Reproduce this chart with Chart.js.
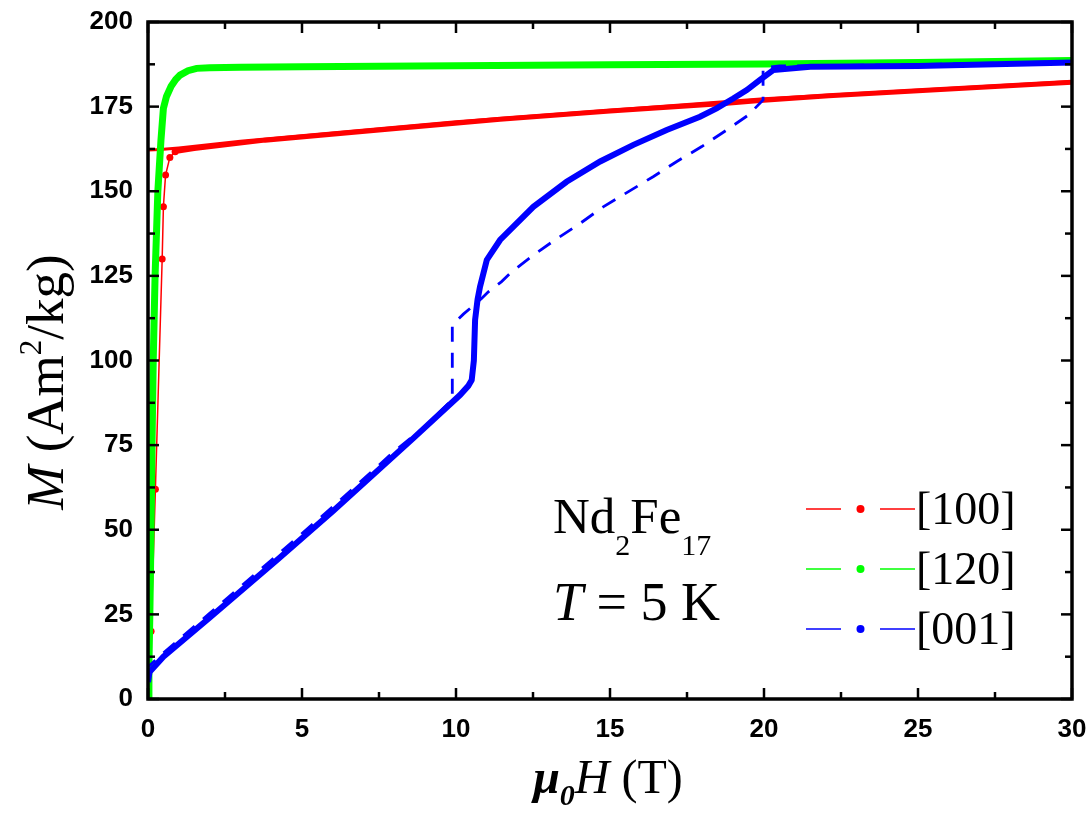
<!DOCTYPE html>
<html><head><meta charset="utf-8">
<script src="https://cdn.jsdelivr.net/npm/chart.js@4.4.0/dist/chart.umd.min.js"></script>
<style>html,body{margin:0;padding:0;background:#fff}#wrap{width:1091px;height:834px}</style>
</head><body><div id="wrap"><canvas id="c" width="1091" height="834"></canvas></div>
<script>
const SERIES_NAMES = ['[100]', '[120]', '[001]'];
const X_TICKS = [0, 5, 10, 15, 20, 25, 30];
const Y_TICKS = [0, 25, 50, 75, 100, 125, 150, 175, 200];

// [100] (red)
const H100_upLow = [0.00, 0.10, 0.24, 0.46, 0.50, 0.57, 0.71, 0.88];
const M100_upLow = [3, 20, 62, 130, 145.4, 154.8, 160.0, 161.7];
const H100_up = [0.88, 1.5, 3.8, 7.5, 11.43, 15.0, 18.7, 19.87, 22.1, 25.0, 30.0];
const M100_up = [161.7, 162.6, 165.1, 168.1, 171.3, 173.7, 175.9, 176.8, 178.2, 179.7, 182.2];
const H100_down = [30.0, 20.0, 10.0, 3.0, 1.0, 0.4, 0.0];
const M100_down = [182.4, 177.3, 170.5, 164.8, 162.8, 162.3, 162.2];

// [120] (green)
const H120 = [0.00, 0.03, 0.06, 0.10, 0.13, 0.17, 0.23, 0.32, 0.42, 0.50, 0.60, 0.75, 0.90, 1.04, 1.30, 1.58, 2.0, 3.0, 5.0, 10.0, 15.0, 20.0, 25.0, 30.0];
const M120 = [0, 10, 25, 50, 75, 100, 125, 150, 165, 174.5, 178.0, 181.0, 183.0, 184.3, 185.6, 186.3, 186.5, 186.6, 186.8, 187.1, 187.4, 187.6, 188.0, 188.6];

// [001] (blue)
const H001_up = [0.00, 0.05, 0.5, 2.0, 4.18, 6.0, 8.61, 10.13, 10.40, 10.51, 10.58, 10.62, 10.70, 10.78, 11.00, 11.43, 12.51, 13.59, 14.68, 15.76, 16.84, 17.92, 18.46, 19.0, 19.44, 19.87, 20.3, 21.5, 25.0, 30.0];
const M001_up = [5, 8, 12.5, 24, 41, 55.5, 77, 89.8, 92.5, 94.2, 100, 112, 118, 121.8, 129.7, 135.6, 145.4, 152.8, 158.8, 163.7, 168.1, 172.0, 174.5, 177.4, 179.9, 182.9, 185.8, 186.8, 187.0, 188.0];
const H001_down = [30.0, 25.0, 20.5, 19.97, 19.97, 19.76, 19.49, 18.79, 17.98, 17.17, 16.4, 15.6, 14.78, 14.03, 13.21, 12.45, 11.81, 11.48, 11.05, 10.83, 10.24, 9.88, 9.88, 9, 8, 6, 4, 2, 1, 0.5, 0.0];
const M001_down = [188.3, 187.4, 187.0, 186.5, 177.0, 175.0, 172.5, 168.1, 163.2, 158.8, 154.3, 149.9, 145.4, 140.5, 135.6, 130.7, 126.2, 123.3, 120.3, 118.3, 113.7, 110.5, 88.5, 80.5, 73.2, 56.8, 41.0, 25.3, 17.5, 13.6, 9.5];

const RED = '#ff0000', GREEN = '#00ff00', BLUE = '#0000ff';
const COLORS = [RED, GREEN, BLUE];

function pts(H, M) { return H.map((h, i) => ({ x: h, y: M[i] })); }

const datasets = [
  { label: SERIES_NAMES[2], data: pts(H001_up, M001_up), borderColor: BLUE, borderWidth: 6, pointRadius: 0 },
  { label: SERIES_NAMES[2] + ' down', data: pts(H001_down, M001_down), borderColor: BLUE, borderWidth: 2.8, borderDash: [15, 11], pointRadius: 0 },
  { label: SERIES_NAMES[1], data: pts(H120, M120), borderColor: GREEN, borderWidth: 7, pointRadius: 0 },
  { label: SERIES_NAMES[0], data: pts(H100_up, M100_up), borderColor: RED, borderWidth: 5, pointRadius: 0 },
  { label: SERIES_NAMES[0] + ' down', data: pts(H100_down, M100_down), borderColor: RED, borderWidth: 3, pointRadius: 0 },
  { label: SERIES_NAMES[0] + ' low', data: pts(H100_upLow, M100_upLow), borderColor: RED, borderWidth: 1.5, pointRadius: 3.5, pointBackgroundColor: RED, pointBorderWidth: 0 }
];
datasets.forEach(d => { d.showLine = true; d.tension = 0; d.fill = false; });

const SERIF = '"Liberation Serif", "Times New Roman", serif';

function drawRich(ctx, parts, x, y, align) {
  let w = 0;
  parts.forEach(p => { ctx.font = p.font; p.w = ctx.measureText(p.t).width; w += p.w; });
  let cx = align === 'center' ? x - w / 2 : x;
  parts.forEach(p => { ctx.font = p.font; ctx.fillText(p.t, cx, y + (p.dy || 0)); cx += p.w; });
}

const decorPlugin = {
  id: 'decor',
  afterDatasetsDraw(chart) {
    const { ctx, chartArea: a, scales: { x, y } } = chart;
    ctx.save();
    ctx.strokeStyle = '#000';
    ctx.lineWidth = 3.5;
    ctx.strokeRect(a.left, a.top, a.right - a.left, a.bottom - a.top);
    ctx.lineWidth = 2.5;
    const line = (x1, y1, x2, y2) => { ctx.beginPath(); ctx.moveTo(x1, y1); ctx.lineTo(x2, y2); ctx.stroke(); };
    X_TICKS.forEach((v, i) => {
      const p = x.getPixelForValue(v);
      line(p, a.bottom, p, a.bottom - 11); line(p, a.top, p, a.top + 11);
      if (i < X_TICKS.length - 1) {
        const m = x.getPixelForValue((v + X_TICKS[i + 1]) / 2);
        line(m, a.bottom, m, a.bottom - 7); line(m, a.top, m, a.top + 7);
      }
    });
    Y_TICKS.forEach((v, i) => {
      const p = y.getPixelForValue(v);
      line(a.left, p, a.left + 11, p); line(a.right, p, a.right - 11, p);
      if (i < Y_TICKS.length - 1) {
        const m = y.getPixelForValue((v + Y_TICKS[i + 1]) / 2);
        line(a.left, m, a.left + 7, m); line(a.right, m, a.right - 7, m);
      }
    });

    ctx.fillStyle = '#000';
    ctx.textBaseline = 'alphabetic';
    // x title
    drawRich(ctx, [
      { t: 'μ', font: 'italic bold 48px ' + SERIF },
      { t: '0', font: 'italic bold 30px ' + SERIF, dy: 12 },
      { t: 'H', font: 'italic 48px ' + SERIF },
      { t: ' (T)', font: '48px ' + SERIF }
    ], 608, 793, 'center');
    // y title
    ctx.save();
    ctx.translate(63, 382);
    ctx.rotate(-Math.PI / 2);
    drawRich(ctx, [
      { t: 'M', font: 'italic 53px ' + SERIF },
      { t: ' (Am', font: '53px ' + SERIF },
      { t: '2', font: '31px ' + SERIF, dy: -22 },
      { t: '/kg)', font: '53px ' + SERIF }
    ], 0, 0, 'center');
    ctx.restore();

    // annotation
    drawRich(ctx, [
      { t: 'Nd', font: '51px ' + SERIF },
      { t: '2', font: '30px ' + SERIF, dy: 22 },
      { t: 'Fe', font: '51px ' + SERIF },
      { t: '17', font: '30px ' + SERIF, dy: 22 }
    ], 553, 533, 'left');
    drawRich(ctx, [
      { t: 'T', font: 'italic 54px ' + SERIF },
      { t: ' = 5 K', font: '54px ' + SERIF }
    ], 553, 620, 'left');

    // legend
    const rows = [509, 569, 629];
    SERIES_NAMES.forEach((name, i) => {
      const yy = rows[i];
      ctx.strokeStyle = COLORS[i]; ctx.fillStyle = COLORS[i]; ctx.lineWidth = 1.5;
      line(806, yy, 841, yy); line(880, yy, 915, yy);
      ctx.beginPath(); ctx.arc(860.5, yy, 4, 0, Math.PI * 2); ctx.fill();
      ctx.fillStyle = '#000';
      ctx.font = '46px ' + SERIF;
      ctx.fillText(name, 916, yy + 15);
    });
    ctx.restore();
  }
};

const TICK_FONT = { family: '"Liberation Sans", Arial, sans-serif', weight: 'bold', size: 26 };

new Chart(document.getElementById('c'), {
  type: 'scatter',
  data: { datasets },
  plugins: [decorPlugin],
  options: {
    responsive: false,
    animation: false,
    devicePixelRatio: 1,
    layout: { padding: { left: 0, right: 19, top: 22, bottom: 0 } },
    plugins: { legend: { display: false }, tooltip: { enabled: false } },
    scales: {
      x: {
        type: 'linear', min: 0, max: 30,
        afterBuildTicks: s => { s.ticks = X_TICKS.map(v => ({ value: v })); },
        afterFit: s => { s.height = 135; s.paddingLeft = 0; s.paddingRight = 0; s.paddingTop = 0; s.paddingBottom = 0; },
        grid: { display: false, drawTicks: false },
        border: { display: false },
        ticks: { color: '#000', padding: 15, font: TICK_FONT }
      },
      y: {
        type: 'linear', min: 0, max: 200,
        afterBuildTicks: s => { s.ticks = Y_TICKS.map(v => ({ value: v })); },
        afterFit: s => { s.width = 148; s.paddingLeft = 0; s.paddingRight = 0; s.paddingTop = 0; s.paddingBottom = 0; },
        grid: { display: false, drawTicks: false },
        border: { display: false },
        ticks: { color: '#000', padding: 15, font: TICK_FONT }
      }
    }
  }
});
</script></body></html>
